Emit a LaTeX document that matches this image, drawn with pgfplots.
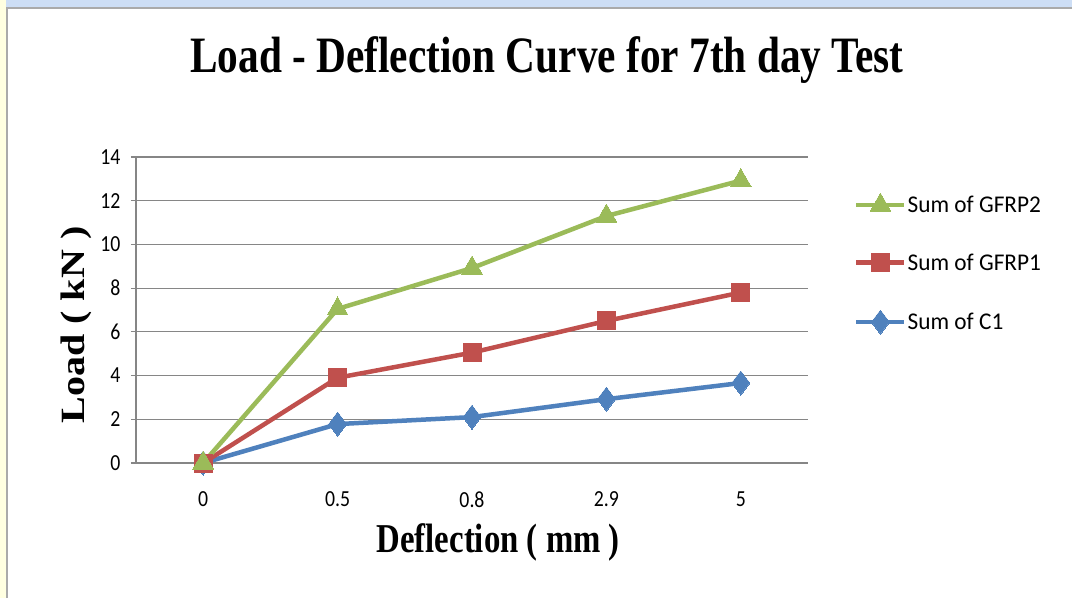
\documentclass[border=0pt]{standalone}
\usepackage{graphicx}
\usepackage{fontspec}
\setmainfont{Carlito}
\newfontfamily\tickfont[FakeStretch=0.86]{Carlito}
\newfontfamily\legfont[FakeStretch=0.97]{Carlito}
\newfontfamily\titlefont[FakeStretch=0.81]{Liberation Serif}
\newfontfamily\xlabfont[FakeStretch=0.8]{Liberation Serif}
\newfontfamily\serifplain{Liberation Serif}
\usepackage{pgfplots}
\pgfplotsset{compat=1.18}
\definecolor{xlgreen}{RGB}{155,187,89}
\definecolor{xlred}{RGB}{192,80,77}
\definecolor{xlblue}{RGB}{79,129,189}
\definecolor{gridgray}{RGB}{134,134,134}
\definecolor{topblue}{RGB}{205,222,245}
\definecolor{leftyellow}{RGB}{255,255,225}
\begin{document}
\begin{tikzpicture}[x=1pt,y=1pt]
\useasboundingbox (0,0) rectangle (1072,598);
\fill[white] (0,0) rectangle (1072,598);
\fill[topblue] (0,590) rectangle (1072,598);
\fill[leftyellow] (0,0) rectangle (6,598);
\draw[gridgray!70, line width=1.2pt] (7,0) -- (7,590) -- (1072,590);
\begin{axis}[
  at={(136pt,135pt)}, anchor=south west,
  scale only axis, width=672pt, height=306pt,
  xmin=-0.5, xmax=4.5, ymin=0, ymax=14,
  xtick={0,1,2,3,4}, xticklabels={0,0.5,0.8,2.9,5},
  ytick={0,2,4,6,8,10,12,14},
  axis lines*=left,
  axis line style={gridgray, line width=1.2pt},
  ymajorgrids, grid style={gridgray, line width=1.2pt},
  major x tick style={draw=none},
  major y tick style={gridgray, line width=1.2pt},
  tick align=outside, major tick length=5pt,
  /pgf/number format/assume math mode=true,
  tick label style={font=\tickfont\fontsize{23}{23}\selectfont},
  yticklabel style={xshift=-7pt},
  xticklabel style={yshift=-20pt},
  title={\titlefont\bfseries\fontsize{51}{51}\selectfont Load - Deflection Curve for 7th day Test},
  title style={at={(rel axis cs:0.6116,1.2550)}, anchor=base, inner sep=0pt},
  xlabel={\xlabfont\bfseries\fontsize{41}{41}\selectfont Deflection ( mm )},
  xlabel style={at={(rel axis cs:0.539,-0.294)}, anchor=base, inner sep=0pt},
  ylabel={\scalebox{1}[0.85]{\serifplain\bfseries\fontsize{40}{40}\selectfont Load ( kN )}},
  ylabel style={at={(rel axis cs:-0.0760,0.451)}, anchor=base, inner sep=0pt},
  legend style={at={(rel axis cs:1.064,0.889)}, anchor=north west, draw=none, fill=none,
    font=\legfont\fontsize{24}{24}\selectfont, row sep=37.5pt, cells={anchor=west},
    nodes={inner sep=1pt}},
  legend image code/.code={\draw[mark repeat=2,mark phase=2,#1] plot coordinates {(0pt,0pt) (24pt,0pt) (48pt,0pt)};},
  reverse legend,
  clip=false,
]
\addplot[xlblue, line width=4.5pt, mark=diamond*, mark size=12pt, mark options={solid, line width=0pt}]
  coordinates {(0,0) (1,1.78) (2,2.1) (3,2.92) (4,3.66)};
\addlegendentry{Sum of C1}
\addplot[xlred, line width=4.5pt, mark=square*, mark size=9pt, mark options={solid, line width=0pt}]
  coordinates {(0,0) (1,3.9) (2,5.05) (3,6.5) (4,7.8)};
\addlegendentry{Sum of GFRP1}
\addplot[xlgreen, line width=4.5pt, mark=triangle*, mark size=12pt, mark options={solid, line width=0pt}]
  coordinates {(0,0) (1,7.05) (2,8.92) (3,11.3) (4,12.92)};
\addlegendentry{Sum of GFRP2}
\end{axis}
\end{tikzpicture}
\end{document}
